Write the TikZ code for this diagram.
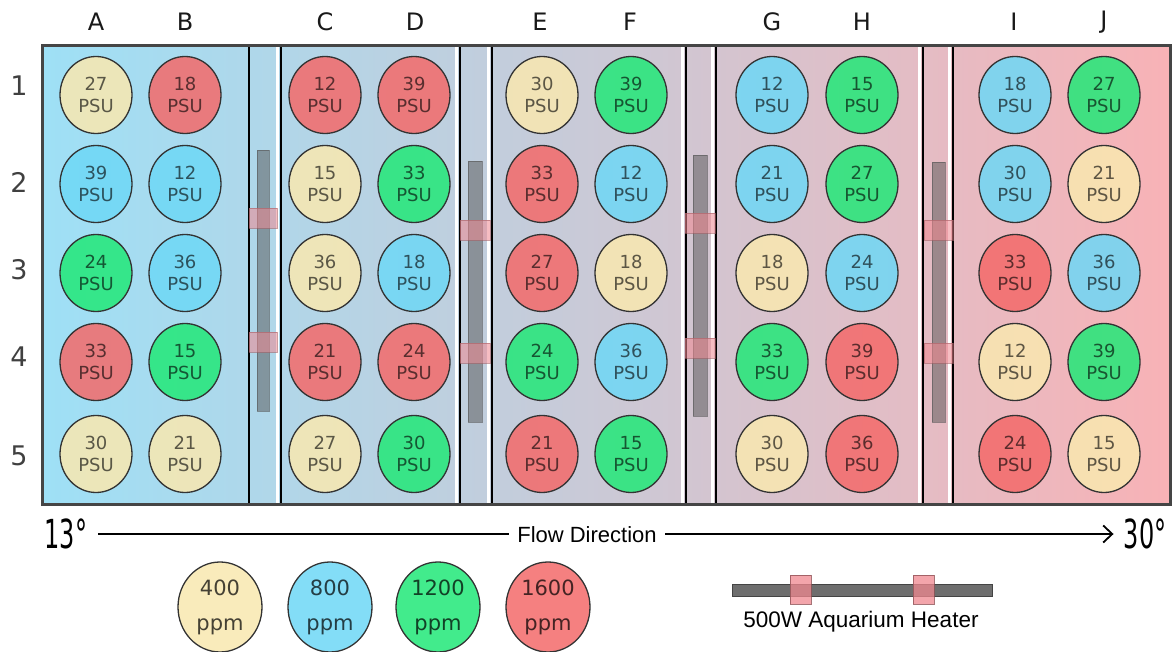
\documentclass[tikz,border=0pt]{standalone}
\usepackage{fontspec}
\setmainfont{DejaVu Sans}
\newfontfamily\arialf{Liberation Sans}
\usetikzlibrary{shapes.geometric,arrows.meta}
\definecolor{cY}{HTML}{F9E8B0}
\definecolor{cB}{HTML}{6ED8F6}
\definecolor{cG}{HTML}{22E878}
\definecolor{cR}{HTML}{F46A6A}
\definecolor{bgL}{HTML}{9EE0F6}
\definecolor{bgM}{HTML}{C8CCDC}
\definecolor{bgR}{HTML}{F8B2B6}
\definecolor{framec}{HTML}{454545}
\definecolor{barc}{HTML}{555555}
\definecolor{bandc}{HTML}{F08890}
\tikzset{
  psu/.style={ellipse, draw=black!80, line width=1.3pt, fill=#1, fill opacity=0.85,
    text=black, text opacity=0.62, minimum width=72pt, minimum height=77pt, inner sep=0pt,
    align=center, font=\fontsize{18}{22}\selectfont},
  ppm/.style={psu=#1, minimum width=84pt, minimum height=90pt, text opacity=0.72,
    font=\fontsize{21}{35}\selectfont},
  collab/.style={font=\fontsize{24}{24}\selectfont, text=black!90},
  rowlab/.style={font=\fontsize{27}{27}\selectfont, text=black!75},
  sepw/.style={white, line width=2.2pt},
  sepb/.style={black, line width=2.4pt},
  hbar/.style={fill=barc, fill opacity=0.5, draw=barc, draw opacity=0.6, line width=0.8pt},
  hband/.style={fill=bandc, fill opacity=0.55, draw=bandc!70!black, draw opacity=0.6, line width=0.8pt},
  temp/.style={font=\fontsize{40}{40}\selectfont, inner sep=0pt, text=black},
}
\newcommand\heaterunit[6]{%
  \fill[hbar] (#1,#3) rectangle (#2,#4);
  \fill[hband] (#1-8,#5) rectangle (#2+8,#5+20);
  \fill[hband] (#1-8,#6) rectangle (#2+8,#6+20);
}
\begin{document}
\begin{tikzpicture}[x=1pt,y=-1pt]
\useasboundingbox (0,0) rectangle (1173,652);
\fill[white] (0,0) rectangle (1173,652);
% background tank
\shade[left color=bgL, middle color=bgM, right color=bgR] (42,46) rectangle (1170,504);
% separators
\foreach \xx in {281,460,492,686,716,923,953} {
  \draw[sepw] (\xx-3.5,46) -- (\xx-3.5,504);
}
\foreach \xx in {249,281,460,492,686,716,923,953} {
  \draw[sepb] (\xx,46) -- (\xx,504);
}
% heaters
\heaterunit{257}{269}{150}{411}{208}{332}
\heaterunit{468}{482}{161}{422}{220}{343}
\heaterunit{693}{707}{155}{416}{213}{338}
\heaterunit{932}{945}{162}{422}{220}{343}
% frame
\draw[framec, line width=3pt] (42,46) rectangle (1170,504);
% column labels
\node[collab] (cA) at (96,22) {A};
\node[collab] (cB) at (185,22) {B};
\node[collab] (cC) at (325,22) {C};
\node[collab] (cD) at (415,22) {D};
\node[collab] (cE) at (540,22) {E};
\node[collab] (cF) at (630,22) {F};
\node[collab] (cG) at (772,22) {G};
\node[collab] (cH) at (862,22) {H};
\node[collab] (cI) at (1014,22) {I};
\node[collab] (cJ) at (1104,22) {J};
% row labels
\node[rowlab] (r1) at (19,86) {1};
\node[rowlab] (r2) at (19,182) {2};
\node[rowlab] (r3) at (19,270) {3};
\node[rowlab] (r4) at (19,357) {4};
\node[rowlab] (r5) at (19,456) {5};
% row 1
\node[psu=cY] (A1) at (96,95) {27\\PSU};
\node[psu=cR] (B1) at (185,95) {18\\PSU};
\node[psu=cR] (C1) at (325,95) {12\\PSU};
\node[psu=cR] (D1) at (414,95) {39\\PSU};
\node[psu=cY] (E1) at (542,95) {30\\PSU};
\node[psu=cG] (F1) at (631,95) {39\\PSU};
\node[psu=cB] (G1) at (772,95) {12\\PSU};
\node[psu=cG] (H1) at (862,95) {15\\PSU};
\node[psu=cB] (I1) at (1015,95) {18\\PSU};
\node[psu=cG] (J1) at (1104,95) {27\\PSU};
% row 2
\node[psu=cB] (A2) at (96,184) {39\\PSU};
\node[psu=cB] (B2) at (185,184) {12\\PSU};
\node[psu=cY] (C2) at (325,184) {15\\PSU};
\node[psu=cG] (D2) at (414,184) {33\\PSU};
\node[psu=cR] (E2) at (542,184) {33\\PSU};
\node[psu=cB] (F2) at (631,184) {12\\PSU};
\node[psu=cB] (G2) at (772,184) {21\\PSU};
\node[psu=cG] (H2) at (862,184) {27\\PSU};
\node[psu=cB] (I2) at (1015,184) {30\\PSU};
\node[psu=cY] (J2) at (1104,184) {21\\PSU};
% row 3
\node[psu=cG] (A3) at (96,273) {24\\PSU};
\node[psu=cB] (B3) at (185,273) {36\\PSU};
\node[psu=cY] (C3) at (325,273) {36\\PSU};
\node[psu=cB] (D3) at (414,273) {18\\PSU};
\node[psu=cR] (E3) at (542,273) {27\\PSU};
\node[psu=cY] (F3) at (631,273) {18\\PSU};
\node[psu=cY] (G3) at (772,273) {18\\PSU};
\node[psu=cB] (H3) at (862,273) {24\\PSU};
\node[psu=cR] (I3) at (1015,273) {33\\PSU};
\node[psu=cB] (J3) at (1104,273) {36\\PSU};
% row 4
\node[psu=cR] (A4) at (96,362) {33\\PSU};
\node[psu=cG] (B4) at (185,362) {15\\PSU};
\node[psu=cR] (C4) at (325,362) {21\\PSU};
\node[psu=cR] (D4) at (414,362) {24\\PSU};
\node[psu=cG] (E4) at (542,362) {24\\PSU};
\node[psu=cB] (F4) at (631,362) {36\\PSU};
\node[psu=cG] (G4) at (772,362) {33\\PSU};
\node[psu=cR] (H4) at (862,362) {39\\PSU};
\node[psu=cY] (I4) at (1015,362) {12\\PSU};
\node[psu=cG] (J4) at (1104,362) {39\\PSU};
% row 5
\node[psu=cY] (A5) at (96,454) {30\\PSU};
\node[psu=cY] (B5) at (185,454) {21\\PSU};
\node[psu=cY] (C5) at (325,454) {27\\PSU};
\node[psu=cG] (D5) at (414,454) {30\\PSU};
\node[psu=cR] (E5) at (542,454) {21\\PSU};
\node[psu=cG] (F5) at (631,454) {15\\PSU};
\node[psu=cY] (G5) at (772,454) {30\\PSU};
\node[psu=cR] (H5) at (862,454) {36\\PSU};
\node[psu=cR] (I5) at (1015,454) {24\\PSU};
\node[psu=cY] (J5) at (1104,454) {15\\PSU};
% flow arrow
\node[temp] (t13) at (66,534) {\scalebox{0.6}[1]{13°}};
\node[temp] (t30) at (1145,534) {\scalebox{0.6}[1]{30°}};
\draw[line width=2pt, -{Straight Barb[length=9pt,width=17pt,line width=1.8pt]}]
  ([xshift=11pt]t13.east) -- ([xshift=-10pt]t30.west);
\node[fill=white, inner xsep=8pt, inner ysep=2pt, font=\arialf\fontsize{22}{22}\selectfont]
  (flow) at (587,535) {Flow Direction};
% legend
\node[ppm=cY] (l400) at (220,607) {400\\ppm};
\node[ppm=cB] (l800) at (330,607) {800\\ppm};
\node[ppm=cG] (l1200) at (438,607) {1200\\ppm};
\node[ppm=cR] (l1600) at (548,607) {1600\\ppm};
% heater legend
\fill[barc, fill opacity=0.85, draw=barc!80!black] (732,584) rectangle (992,596);
\fill[bandc, fill opacity=0.75, draw=bandc!60!black, draw opacity=0.8, line width=0.8pt] (790,575) rectangle (811,604);
\fill[bandc, fill opacity=0.75, draw=bandc!60!black, draw opacity=0.8, line width=0.8pt] (913,575) rectangle (934,604);
\node[font=\arialf\fontsize{22.5}{22.5}\selectfont] (hlab) at (861,622) {500W Aquarium Heater};
\end{tikzpicture}
\end{document}
